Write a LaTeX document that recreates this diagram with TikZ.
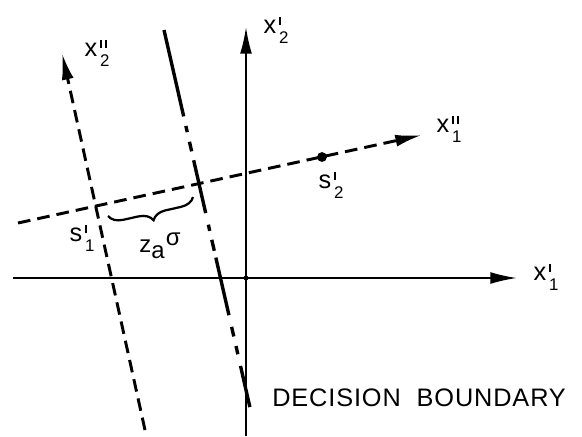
\documentclass[tikz,border=0pt]{standalone}
\usepackage{fontspec}
\setmainfont{Liberation Sans}
\usetikzlibrary{positioning,arrows.meta,decorations.pathreplacing}
\newcommand{\pr}{\rule{1.4pt}{5.5pt}}
\newcommand{\lab}[3]{#1\hspace{2pt}\rlap{\raisebox{6pt}{#2}}\raisebox{-7pt}{\fontsize{12}{12}\selectfont #3}}

\begin{document}
\begin{tikzpicture}[x=0.025cm,y=-0.025cm,
  axis/.style={line width=1.3pt},
  dashaxis/.style={line width=2.1pt,dash pattern=on 9pt off 5pt},
  arr/.style={-{Latex[length=19pt,width=8.5pt]}},
  lbl/.style={font=\fontsize{18}{20}\selectfont,inner sep=0pt}]
\useasboundingbox (0,0) rectangle (582,436);
% fixed axes
\coordinate (h0) at (13,278); \coordinate (h1) at (517,278);
\coordinate (v0) at (246,436); \coordinate (v1) at (246,27);
% rotated axes
\coordinate (r0) at (18,223); \coordinate (r1) at (422,135);
\coordinate (q0) at (145,430); \coordinate (q1) at (62,53);
% decision boundary
\coordinate (d0) at (164,30); \coordinate (d1) at (251,412);
\draw[axis,arr] (h0)--(h1); \draw[axis,arr] (v0)--(v1);
\draw[dashaxis,arr] (r0)--(r1); \draw[dashaxis,arr] (q0)--(q1);
\draw[line width=2.4pt,dash pattern=on 63pt off 7pt on 4.5pt off 7pt on 7pt off 6.5pt on 38.5pt off 8.5pt on 4.5pt off 6.5pt on 8pt off 5pt on 42pt off 8.5pt on 7pt off 7pt on 6pt off 8.5pt on 30pt off 20pt] (d0)--(d1);
\node[circle,fill,inner sep=0pt,minimum size=3.5pt] (o) at (246,278) {};
\node[circle,fill,inner sep=0pt,minimum size=7pt] (s2) at (322,157) {};
\coordinate (s1) at (96,206); \coordinate (m) at (198,183);
% brace between the two crossings
\coordinate (b0) at (193,197); \coordinate (b1) at (108,216);
\draw[line width=1.6pt,decorate,decoration={brace,amplitude=10pt}] (b0)--(b1);
% labels
\node[lbl] (lx1) at (546,277) {\lab{x}{\pr}{1}};
\node[lbl] (lx2) at (276,30) {\lab{x}{\pr}{2}};
\node[lbl] (ly1) at (449,129) {\lab{x}{\pr\hspace{1.8pt}\pr}{1}};
\node[lbl] (ly2) at (97,53) {\lab{x}{\pr\hspace{1.8pt}\pr}{2}};
\node[lbl] (ls2) at (331,185) {\lab{s}{\pr}{2}};
\node[lbl] (ls1) at (82,238) {\lab{s}{\pr}{1}};
\node[lbl,font=\fontsize{17}{19}\selectfont] (lz) at (160,246) {z\raisebox{-4.5pt}{a}\hspace{1pt}\raisebox{5pt}{σ}};
\node[lbl,anchor=west,font=\fontsize{18}{20}\selectfont\addfontfeature{LetterSpace=3.5}] (db) at (272,397.5) {DECISION\ \ BOUNDARY};
\end{tikzpicture}
\end{document}
